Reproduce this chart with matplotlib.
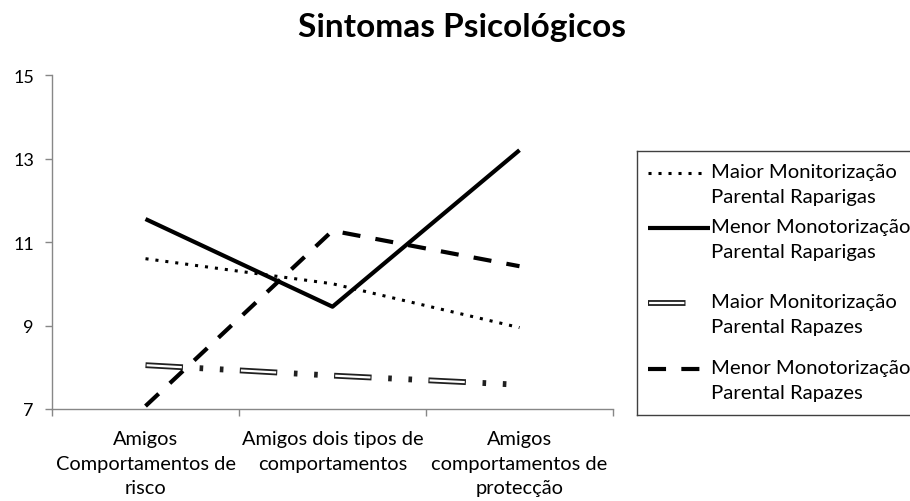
import matplotlib
matplotlib.use("Agg")
import matplotlib.pyplot as plt
from matplotlib.lines import Line2D

plt.rcParams['font.family'] = ['Lato', 'DejaVu Sans']
plt.rcParams['lines.scale_dashes'] = False

title = "Sintomas Psicológicos"
categories = ["Amigos\nComportamentos de\nrisco",
              "Amigos dois tipos de\ncomportamentos",
              "Amigos\ncomportamentos de\nprotecção"]
series_names = ["Maior Monitorização\nParental Raparigas",
                "Menor Monotorização\nParental Raparigas",
                "Maior Monitorização\nParental Rapazes",
                "Menor Monotorização\nParental Rapazes"]
maior_raparigas = [10.6, 10.0, 8.95]
menor_raparigas = [11.55, 9.45, 13.2]
maior_rapazes = [8.05, 7.8, 7.58]
menor_rapazes = [7.07, 11.27, 10.42]
yticks = [7, 9, 11, 13, 15]

W, H = 910, 502
fig = plt.figure(figsize=(W / 100, H / 100), dpi=100)
ax = fig.add_axes([52 / W, 1 - 410 / H, (613 - 52) / W, (410 - 76) / H])

x = list(range(len(categories)))

# styles
dotted = dict(color='black', lw=2.2, ls=(0, (2.2, 5.0)), dash_capstyle='butt')
solid = dict(color='black', lw=3.0, solid_capstyle='butt')
dashed = dict(color='black', lw=3.0, ls=(0, (13, 11)), dash_capstyle='butt')
dbl_outer = dict(color='#202020', lw=4.2, ls=(0, (27, 12, 2.6, 12, 2.6, 11.8)), dash_capstyle='butt')
dbl_inner = dict(color='white', lw=1.6, ls=(67.2, (25.4, 42.6)), dash_capstyle='butt')

ax.plot(x, maior_raparigas, **dotted)
ax.plot(x, menor_raparigas, **solid)
ax.plot(x, maior_rapazes, **dbl_outer)
ax.plot(x, maior_rapazes, **dbl_inner)
ax.plot(x, menor_rapazes, **dashed)

ax.set_xlim(-0.5, len(categories) - 0.5)
ax.set_ylim(7, 15)
ax.set_yticks(yticks)
ax.set_yticklabels([str(v) for v in yticks])
ax.set_xticks(x)
ax.set_xticklabels(categories, linespacing=1.55)
ax.set_xticks([i - 0.5 for i in range(len(categories) + 1)], minor=True)

spine_col = '#878787'
for s in ['top', 'right']:
    ax.spines[s].set_visible(False)
for s in ['left', 'bottom']:
    ax.spines[s].set_color(spine_col)
    ax.spines[s].set_linewidth(1.0)

ax.tick_params(axis='x', which='major', length=0, pad=15, labelsize=14.4, colors='black')
ax.tick_params(axis='x', which='minor', length=5, width=1.0, color=spine_col, direction='out')
ax.tick_params(axis='y', which='major', length=5, width=1.0, color=spine_col, direction='out',
               pad=8, labelsize=13, labelcolor='black')

fig.text(462 / W, 1 - 37 / H, title, ha='center', va='baseline', fontsize=24, fontweight='bold')

# legend box (manual, Excel-like)
lx0, ly0, lx1, ly1 = 637, 152, 916, 416
lax = fig.add_axes([lx0 / W, 1 - ly1 / H, (lx1 - lx0) / W, (ly1 - ly0) / H])
lax.set_xlim(lx0, lx1)
lax.set_ylim(ly1, ly0)
lax.set_xticks([])
lax.set_yticks([])
for s in lax.spines.values():
    s.set_color('#404040')
    s.set_linewidth(1.0)
lax.patch.set_alpha(0)

handles = [dotted, solid, [dbl_outer, dbl_inner], dashed]
handle_x = [(648, 703), (648, 710), (648, 688), (648, 703)]
rows = [174, 229, 304, 370]
for name, st, hx, yy in zip(series_names, handles, handle_x, rows):
    sts = st if isinstance(st, list) else [st]
    for s in sts:
        lax.add_line(Line2D([hx[0], hx[1]], [yy, yy], **s))
    lax.text(711, yy - 10, name, ha='left', va='top', fontsize=14.6, linespacing=1.6,
             clip_on=False)

fig.savefig('out.png', dpi=100)
